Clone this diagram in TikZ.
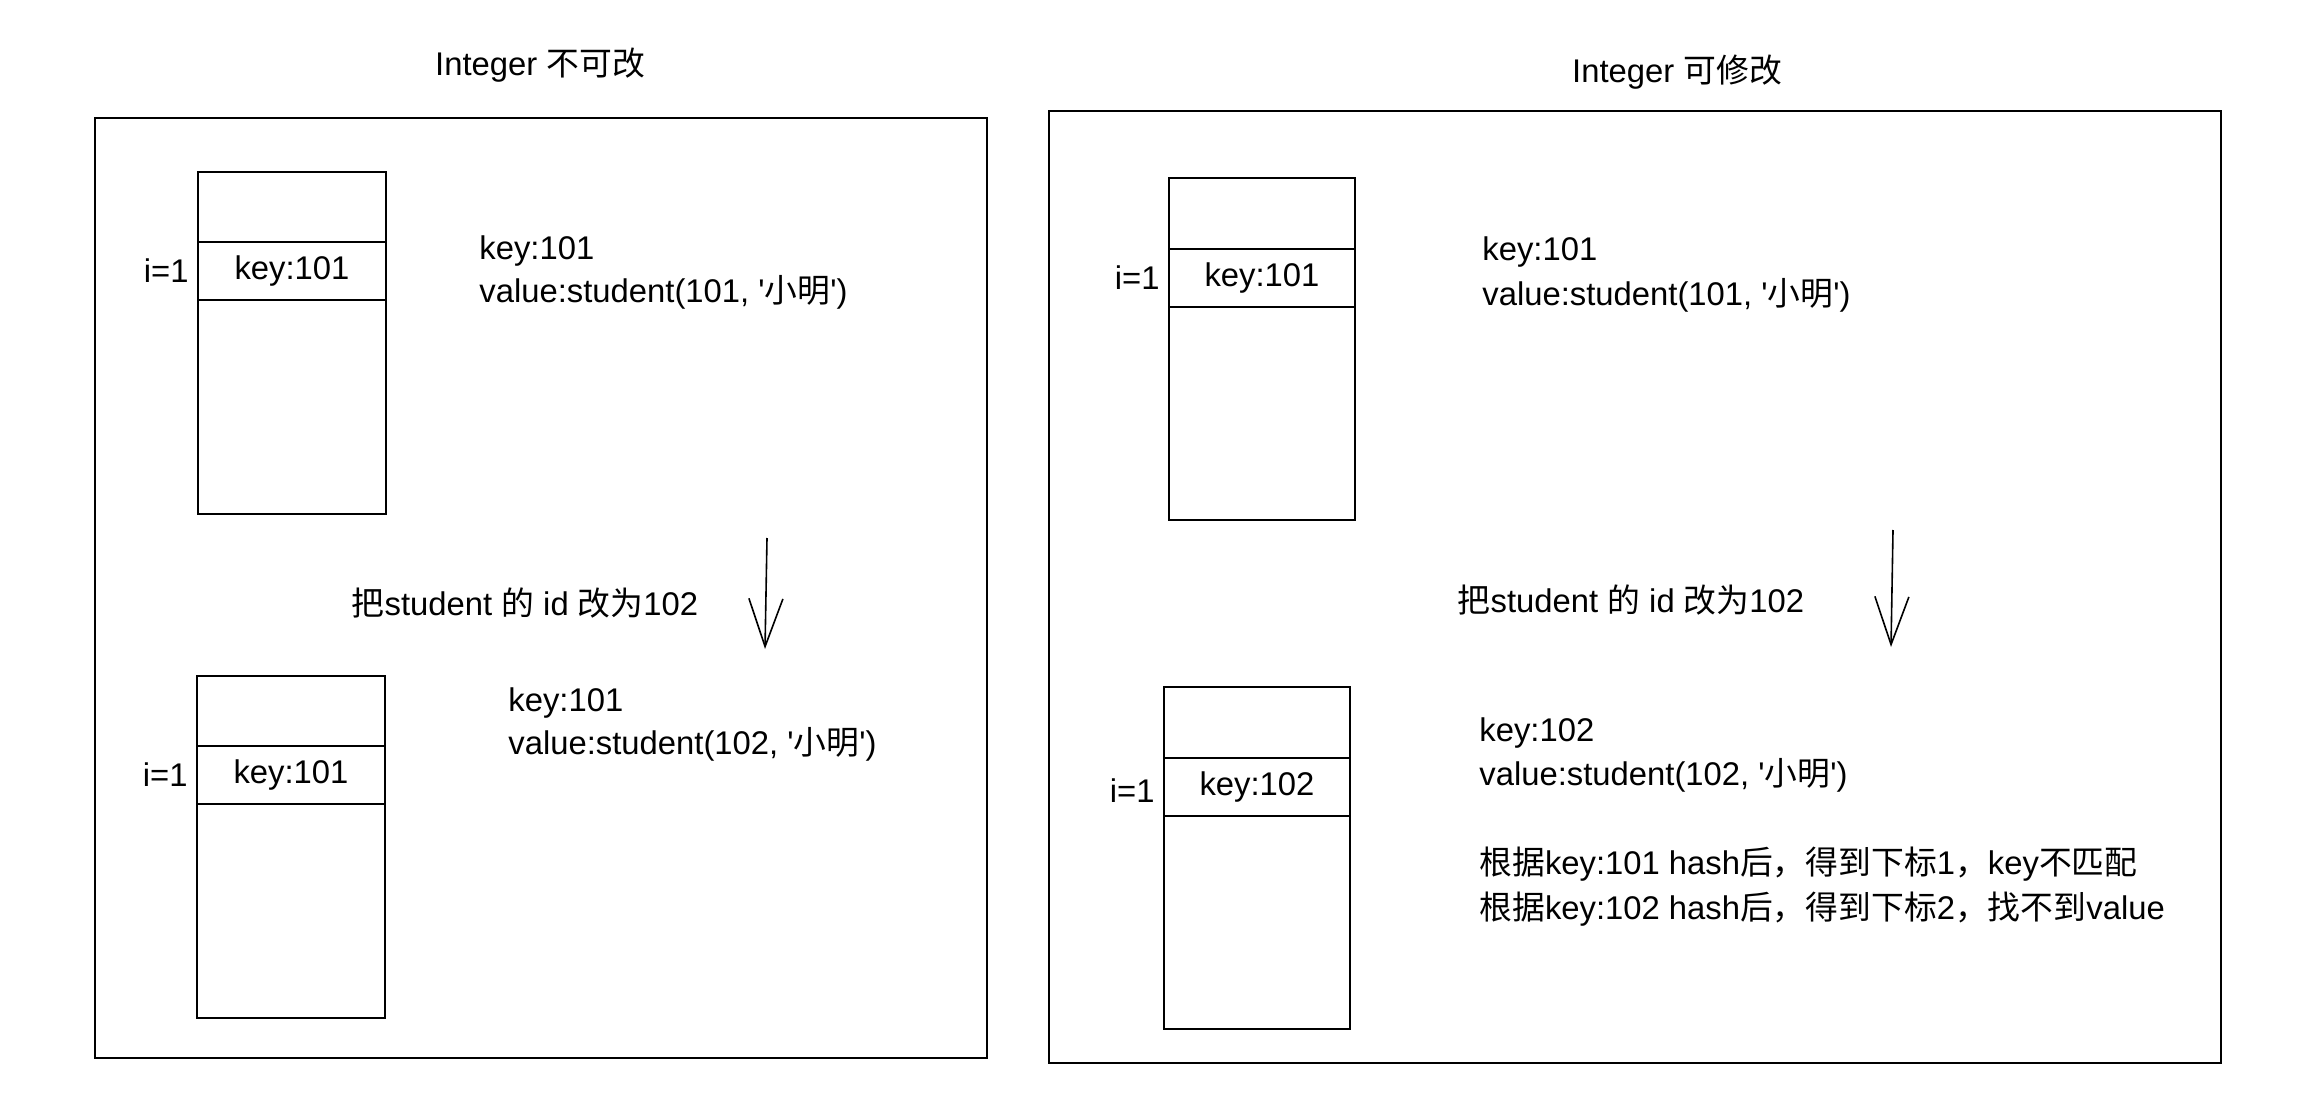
\documentclass[tikz,border=0pt]{standalone}
\usepackage{fontspec}
\setmainfont{Liberation Sans}
\newfontfamily\cjk{Noto Sans CJK SC}
\usetikzlibrary{arrows.meta,positioning}
\newcommand{\zh}[1]{{\cjk #1}}
\newcommand{\sq}{\textquotesingle}
\tikzset{
  panel/.style={draw,line width=1pt,inner sep=0pt},
  bucket/.style={draw,line width=1pt,minimum width=94pt,minimum height=171pt,inner sep=0pt},
  keyrow/.style={draw,line width=1pt,minimum width=94pt,minimum height=29pt,inner sep=0pt},
  index/.style={anchor=east,inner sep=0pt,xshift=-4pt},
  note/.style={anchor=west,inner sep=0pt},
  changearrow/.style={-{Straight Barb[length=24pt,width=17pt]},line width=0.8pt}
}

\begin{document}
\begin{tikzpicture}[x=0.5pt,y=-0.5pt,every node/.style={font=\fontsize{16.4}{20}\selectfont}]
\useasboundingbox (0,0) rectangle (2306,1112);

% left panel
\node[panel,minimum width=446pt,minimum height=470pt] (lpanel) at (541,588) {};
\node (ltitle) at (540,65) {Integer \zh{不可改}};

\node[bucket] (lt) at (292,343) {};
\node[keyrow] (ltkey) at (292,271) {key:101};
\node[index] (lti) at (ltkey.west) {i=1};
\node[note] (ltk) at (479,251) {key:101};
\node[note] (ltv) at (479,292) {value:student(101, \sq\zh{小明}\sq)};

\coordinate (lfrom) at (767,538);
\coordinate (lto) at (765,649);
\draw[changearrow] (lfrom) -- (lto);
\node (lchange) at (525,603) {\zh{把}student \zh{的} id \zh{改为}102};

\node[bucket] (lb) at (291,847) {};
\node[keyrow] (lbkey) at (291,775) {key:101};
\node[index] (lbi) at (lbkey.west) {i=1};
\node[note] (lbk) at (508,703) {key:101};
\node[note] (lbv) at (508,744) {value:student(102, \sq\zh{小明}\sq)};

% right panel
\node[panel,minimum width=586pt,minimum height=476pt] (rpanel) at (1635,587) {};
\node (rtitle) at (1677,72) {Integer \zh{可修改}};

\node[bucket,minimum width=93pt] (rt) at (1262,349) {};
\node[keyrow,minimum width=93pt] (rtkey) at (1262,278) {key:101};
\node[index] (rti) at (rtkey.west) {i=1};
\node[note] (rtk) at (1482,252) {key:101};
\node[note] (rtv) at (1482,295) {value:student(101, \sq\zh{小明}\sq)};

\coordinate (rfrom) at (1893,530);
\coordinate (rto) at (1891,647);
\draw[changearrow] (rfrom) -- (rto);
\node (rchange) at (1631,600) {\zh{把}student \zh{的} id \zh{改为}102};

\node[bucket,minimum width=93pt] (rb) at (1257,858) {};
\node[keyrow,minimum width=93pt] (rbkey) at (1257,787) {key:102};
\node[index,yshift=-2pt] (rbi) at (rbkey.west) {i=1};
\node[note] (rbk) at (1479,733) {key:102};
\node[note] (rbv) at (1479,775) {value:student(102, \sq\zh{小明}\sq)};
\node[note] (rbh1) at (1479,864) {\zh{根据}key:101 hash\zh{后，得到下标}1\zh{，}key\zh{不匹配}};
\node[note] (rbh2) at (1479,909) {\zh{根据}key:102 hash\zh{后，得到下标}2\zh{，找不到}value};
\end{tikzpicture}
\end{document}
